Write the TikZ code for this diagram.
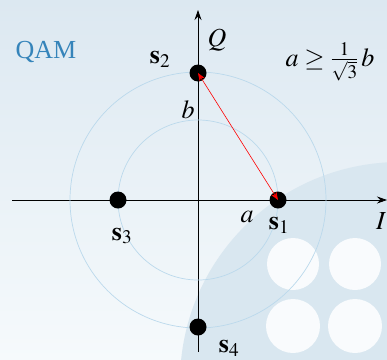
\documentclass[tikz,border=0pt]{standalone}
\usepackage{mathptmx}
\usepackage[no-math]{fontspec}
\setmainfont{Liberation Serif}
\usetikzlibrary{arrows.meta}

\definecolor{bgtop}{HTML}{DCE8F1}
\definecolor{bgbot}{HTML}{F6FAFC}
\definecolor{wmark}{HTML}{D9E7F0}
\definecolor{ringblue}{HTML}{BBD9EC}
\definecolor{qamblue}{HTML}{3584BA}

\begin{document}
\begin{tikzpicture}[x=1pt, y=-1pt, line width=0.8pt,
    every node/.style={font=\fontsize{26}{30}\selectfont, inner sep=0pt},
    dot/.style={circle, fill=black, minimum size=17pt},
    ring/.style={draw=ringblue, line width=0.7pt},
    axis/.style={-{Stealth[length=10pt, width=7pt]}, line width=0.8pt}]

  % --- Hintergrund ---
  \useasboundingbox (0,0) rectangle (387,359);
  \shade[top color=bgtop, bottom color=bgbot] (0,0) rectangle (387,359);
  \begin{scope}
    \clip (0,0) rectangle (387,359);
    \fill[wmark] (400,382) circle (220);
    \fill[white!85!wmark] (293,264) circle (26);
    \fill[white!85!wmark] (355,264) circle (26);
    \fill[white!85!wmark] (293,326) circle (27);
    \fill[white!85!wmark] (355,326) circle (27);
  \end{scope}

  % --- Parameter ---
  \def\ra{80}   % innerer Kreis
  \def\rb{128}  % aeusserer Kreis

  % --- Achsen ---
  \coordinate (O)    at (198,200);
  \coordinate (Ileft) at (12,200);
  \coordinate (Iend) at (387,200);
  \coordinate (Qlow) at (198,352);
  \coordinate (Qend) at (198,10);
  \draw[axis] (Ileft) -- (Iend);
  \draw[axis] (Qlow) -- (Qend);

  % --- Kreise ---
  \draw[ring] (O) circle (\ra);
  \draw[ring] (O) circle (\rb);

  % --- Signalpunkte ---
  \node[dot] (s1) at (278,200) {};
  \node[dot] (s2) at (198,73)  {};
  \node[dot] (s3) at (118,200) {};
  \node[dot] (s4) at (198,327) {};

  \draw[red, line width=0.6pt, {Stealth[length=8pt, width=6pt]}-{Stealth[length=8pt, width=6pt]}]
    (s1.center) -- (s2.center);

  % --- Beschriftungen ---
  \node[text=qamblue] (QAM) at (46,52) {QAM};
  \node (Qlab) at (217,40)  {$Q$};
  \node (Ilab) at (381,221) {$I$};
  \node (blab) at (188,110) {$b$};
  \node (alab) at (247,217) {$a$};
  \node (s1lab) at (279,225) {$\mathbf{s}_1$};
  \node (s2lab) at (160,59)  {$\mathbf{s}_2$};
  \node (s3lab) at (122,236) {$\mathbf{s}_3$};
  \node (s4lab) at (229,348) {$\mathbf{s}_4$};
  \node (cond) at (330,62) {$a \geq \frac{1}{\sqrt{3}}\,b$};

\end{tikzpicture}
\end{document}
